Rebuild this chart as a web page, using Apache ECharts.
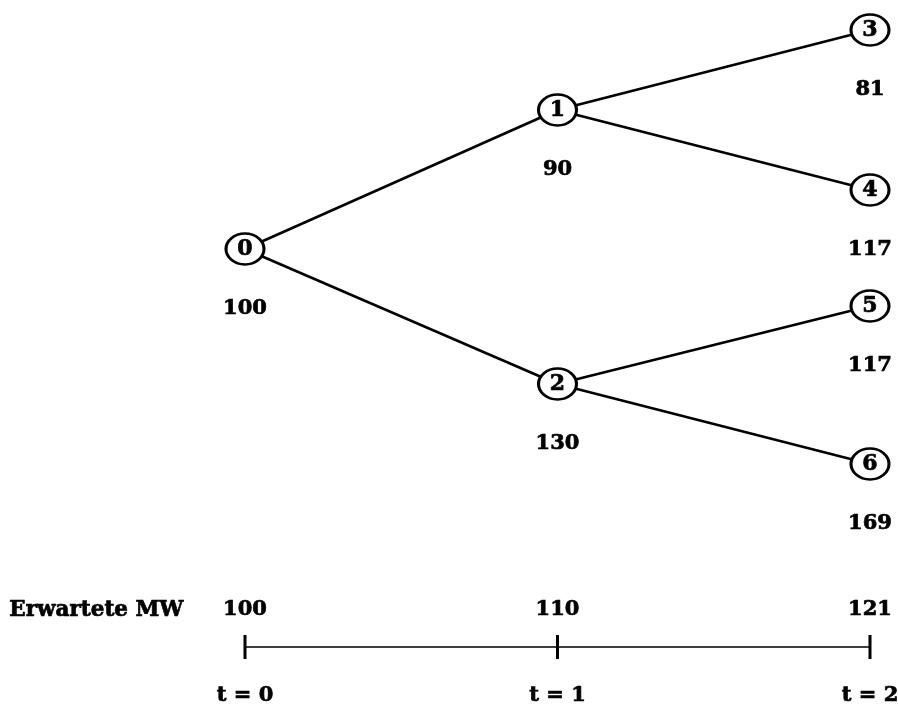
<!DOCTYPE html>
<html>
<head>
<meta charset="utf-8">
<script src="https://cdn.jsdelivr.net/npm/echarts@6/dist/echarts.min.js"></script>
<style>html,body{margin:0;padding:0;background:#fff}#c{width:898px;height:709px}</style>
</head>
<body>
<div id="c"></div>
<script>
// Tree nodes
const nodeIds = ['0', '1', '2', '3', '4', '5', '6'];
const nodeTime = [0, 1, 1, 2, 2, 2, 2];          // time step of each node
const nodeRow = [249, 110, 384, 30, 190, 306, 464]; // vertical layout row
const nodeValues = [100, 90, 130, 81, 117, 117, 169];
const nodeParent = [null, 0, 0, 1, 1, 2, 2];
// Timeline
const timeSteps = [0, 1, 2];
const expectedValues = [100, 110, 121];
const timeLabels = ['t = 0', 't = 1', 't = 2'];
const timelineRow = 647;
const timelineTitle = 'Erwartete MW';

const FONT = '"DejaVu Serif", serif';
const nodeData = nodeIds.map((id, i) => ({ value: [nodeTime[i], nodeRow[i]], name: id }));
const valueData = nodeValues.map((v, i) => ({ value: [nodeTime[i], nodeRow[i]], name: String(v) }));
const edgeData = [];
nodeParent.forEach((p, i) => {
  if (p !== null) edgeData.push({ coords: [[nodeTime[p], nodeRow[p]], [nodeTime[i], nodeRow[i]]] });
});
const tickData = timeSteps.map((t, i) => ({ value: [t, timelineRow], ev: expectedValues[i], tl: timeLabels[i] }));

const lbl = (extra) => Object.assign({
  show: true, position: 'inside', color: '#000', fontFamily: FONT, fontWeight: 'bold', fontSize: 21,
  textBorderColor: '#000', textBorderWidth: 0.7
}, extra);

const chart = echarts.init(document.getElementById('c'), null, { renderer: 'canvas' });
chart.setOption({
  backgroundColor: '#fff',
  animation: false,
  grid: { left: 245, right: 28, top: 0, bottom: 0 },
  xAxis: { type: 'value', min: 0, max: 2, show: false },
  yAxis: { type: 'value', min: 0, max: 709, inverse: true, show: false },
  graphic: [{
    type: 'text', left: 9, top: 599,
    style: { text: timelineTitle, font: 'bold 21.5px ' + FONT, fill: '#000', stroke: '#000', lineWidth: 0.7 }
  }],
  series: [
    {
      type: 'lines', coordinateSystem: 'cartesian2d', z: 1, silent: true,
      lineStyle: { color: '#000', width: 2.6, opacity: 1 },
      data: edgeData
    },
    {
      type: 'scatter', z: 3, symbol: 'circle', symbolSize: [38, 31], silent: true,
      itemStyle: { color: '#fff', borderColor: '#000', borderWidth: 2.8, opacity: 1 },
      label: lbl({ fontSize: 22, formatter: p => p.name }),
      data: nodeData
    },
    {
      type: 'scatter', z: 3, symbolSize: 0, silent: true,
      itemStyle: { opacity: 1 },
      label: lbl({ offset: [0, 60], formatter: p => p.name }),
      data: valueData
    },
    {
      type: 'line', z: 2, symbol: 'none', silent: true,
      lineStyle: { color: '#000', width: 1.6, opacity: 1 },
      data: tickData.map(d => d.value)
    },
    {
      type: 'scatter', z: 3, symbol: 'rect', symbolSize: [3, 24], silent: true,
      itemStyle: { color: '#000', opacity: 1 },
      label: lbl({ offset: [0, -37], formatter: p => String(p.data.ev) }),
      data: tickData
    },
    {
      type: 'scatter', z: 3, symbolSize: 0, silent: true,
      itemStyle: { opacity: 1 },
      label: lbl({ offset: [0, 49], formatter: p => p.data.tl }),
      data: tickData
    }
  ]
});
</script>
</body>
</html>
